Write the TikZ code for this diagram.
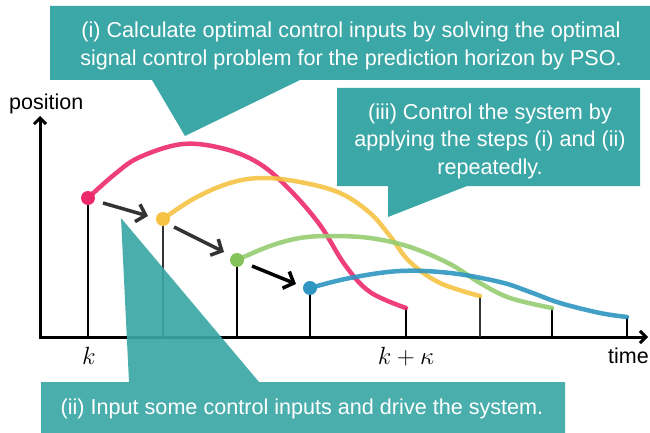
\documentclass[tikz,border=0pt]{standalone}
\usepackage{fontspec}
\setmainfont{Liberation Sans}
\usetikzlibrary{arrows.meta}
\definecolor{teal1}{HTML}{3BA7A6}
\definecolor{cred}{HTML}{EC2A6B}
\definecolor{cyel}{HTML}{F5C242}
\definecolor{cgrn}{HTML}{95CC70}
\definecolor{cgrnd}{HTML}{86C25A}
\definecolor{cblu}{HTML}{2E96C0}
\begin{document}
\begin{tikzpicture}[x=1pt,y=-1pt,
  callout/.style={fill=teal1,draw=none},
  ctext/.style={text=white,align=center,font=\fontsize{21.6}{27.5}\selectfont,inner sep=0pt},
  curve/.style={line width=4.5pt,opacity=0.9,line cap=round},
  stem/.style={line width=2.4pt,black},
  dot/.style={circle,inner sep=0pt,minimum size=14pt},
  stepar/.style={line width=3.5pt,-{Straight Barb[length=8.5pt,width=18pt]}},
  lbl/.style={font=\fontsize{21.5}{24}\selectfont,inner sep=0pt}
]
\useasboundingbox (0,0) rectangle (650,433);
% callout (i)
\fill[callout] (50,6) -- (650,6) -- (650,80) -- (300,80) -- (185,136) -- (152,80) -- (50,80) -- cycle;
\node[ctext] (ti) at (351,46) {(i) Calculate optimal control inputs by solving the optimal\\signal control problem for the prediction horizon by PSO.};
% callout (iii)
\fill[callout] (337,88) -- (640,88) -- (640,186) -- (467,186) -- (388,217) -- (388,186) -- (337,186) -- cycle;
\node[ctext] (tiii) at (490,141) {(iii) Control the system by\\applying the steps (i) and (ii)\\repeatedly.};
% axes
\coordinate (o) at (40,337);
\coordinate (ytop) at (40,116);
\coordinate (xend) at (648,337);
\draw[line width=3pt,-{Straight Barb[length=6pt,width=12pt]}] (40,338.5) -- (ytop);
\draw[line width=3pt,-{Straight Barb[length=6pt,width=12pt]}] (38.5,337) -- (xend);
\node[lbl,anchor=base west] (pos) at (9,110) {position};
\node[lbl,anchor=base west] (time) at (608,363) {time};
\node[inner sep=0pt,anchor=base] (k) at (89,364) {\fontsize{27}{30}\selectfont$k$};
\node[inner sep=0pt,anchor=base] (kk) at (406,364) {\fontsize{27}{30}\selectfont$k+\kappa$};
% stems
\coordinate (s1) at (88,337); \coordinate (s2) at (163,337);
\coordinate (s3) at (237,337); \coordinate (s4) at (310,337);
\coordinate (e1b) at (406,337); \coordinate (e2b) at (480,337);
\coordinate (e3b) at (552,337); \coordinate (e4b) at (627,337);
\coordinate (e1) at (406,308); \coordinate (e2) at (480,296);
\coordinate (e3) at (552,308); \coordinate (e4) at (627,317);
\coordinate (d1) at (88,198); \coordinate (d2) at (163,219);
\coordinate (d3) at (237,260); \coordinate (d4) at (310,288);
\draw[stem] (d1) -- (s1);
\draw[stem,black!80] (d2) -- (s2);
\draw[stem] (d3) -- (s3);
\draw[stem] (d4) -- (s4);
\draw[stem] (e1) -- (e1b);
\draw[stem,black!80] (e2) -- (e2b);
\draw[stem] (e3) -- (e3b);
\draw[stem] (e4) -- (e4b);
% curves
\draw[curve,cred] plot[smooth,tension=0.6] coordinates {(88,198) (115,174) (140,157) (183,144) (225,149) (260,164) (290,190) (320,225) (345,265) (370,292) (406,308)};
\draw[curve,cyel] plot[smooth,tension=0.6] coordinates {(163,219) (195,198) (230,183) (262,178) (300,182) (340,193) (370,213) (390,236) (410,262) (440,283) (480,296)};
\draw[curve,cgrn] plot[smooth,tension=0.6] coordinates {(237,260) (270,246) (300,238) (330,236) (370,238) (410,247) (450,264) (480,283) (510,298) (552,308)};
\draw[curve,cblu] plot[smooth,tension=0.6] coordinates {(310,288) (350,278) (400,271) (450,273) (500,282) (530,292) (560,303) (600,313) (627,317)};
% dots
\node[dot,fill=cred] (n1) at (d1) {};
\node[dot,fill=cyel] (n2) at (d2) {};
\node[dot,fill=cgrnd] (n3) at (d3) {};
\node[dot,fill=cblu] (n4) at (d4) {};
% step arrows
\draw[stepar,black!80] (n1) ++(15,5) -- ++(45,13);
\draw[stepar,black!80] (n2) ++(11,8) -- ++(50,25);
\draw[stepar,black] (n3) ++(15,6) -- ++(44,18);
% callout (ii)
\fill[callout,fill opacity=0.92] (41,382) -- (129,382) -- (121,218) -- (259,382) -- (565,382) -- (565,433) -- (41,433) -- cycle;
\node[ctext] (tii) at (302,409) {(ii) Input some control inputs and drive the system.};
\end{tikzpicture}
\end{document}
